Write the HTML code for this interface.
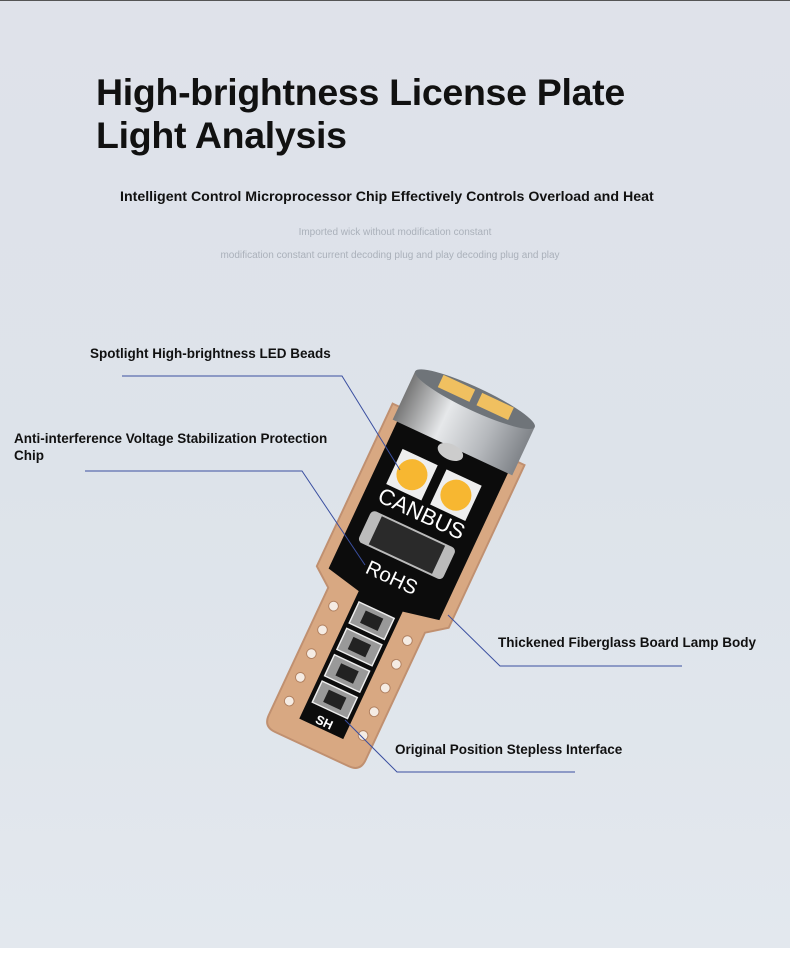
<!DOCTYPE html>
<html><head><meta charset="utf-8"><style>
body{margin:0;width:790px;height:953px;overflow:hidden;background:linear-gradient(180deg,#dfe2ea 0%,#dde3ea 50%,#e3e8ee 100%);font-family:"Liberation Sans",sans-serif;position:relative}
.t{position:absolute;color:#111;font-weight:bold}
</style></head><body>
<div style="position:absolute;left:0;top:0;width:790px;height:1px;background:#555"></div>
<div style="position:absolute;left:0;top:948px;width:790px;height:5px;background:#fff"></div>
<div class="t" style="left:96px;top:71px;font-size:37.5px;line-height:43px;letter-spacing:-0.3px">High-brightness License Plate<br>Light Analysis</div>
<div class="t" style="left:120px;top:189px;font-size:14.2px">Intelligent Control Microprocessor Chip Effectively Controls Overload and Heat</div>
<div style="position:absolute;left:0;width:790px;top:227px;text-align:center;font-size:10px;color:#aab0ba">Imported wick without modification constant</div>
<div style="position:absolute;left:0;width:780px;top:250px;text-align:center;font-size:10px;color:#aab0ba">modification constant current decoding plug and play decoding plug and play</div>
<div class="t" style="left:90px;top:346px;font-size:13.5px">Spotlight High-brightness LED Beads</div>
<div class="t" style="left:14px;top:430px;font-size:13.5px;line-height:17px">Anti-interference Voltage Stabilization Protection<br>Chip</div>
<div class="t" style="left:498px;top:635px;font-size:13.5px">Thickened Fiberglass Board Lamp Body</div>
<div class="t" style="left:395px;top:742px;font-size:13.5px">Original Position Stepless Interface</div>
<svg width="790" height="953" style="position:absolute;left:0;top:0">
<defs><linearGradient id="cg" x1="0" x2="1"><stop offset="0" stop-color="#777"/><stop offset=".35" stop-color="#e6e8ea"/><stop offset=".7" stop-color="#b5b8bc"/><stop offset="1" stop-color="#808489"/></linearGradient></defs>
<g transform="translate(393,575) rotate(25) scale(0.97)">
 <path d="M-75,-160 L75,-160 L75,25 L55,40 L55,185 Q55,198 42,198 L-42,198 Q-55,198 -55,185 L-55,40 L-75,25 Z" fill="#d8a882" stroke="#c09070" stroke-width="2"/>
 <path d="M-63,-150 L63,-150 L63,22 L25,30 L25,175 L-25,175 L-25,30 L-63,22 Z" fill="#0c0c0c"/>
 <g fill="#f5ece4" stroke="#b08060">
  <circle cx="-42" cy="55" r="5"/><circle cx="-42" cy="82" r="5"/><circle cx="-42" cy="109" r="5"/><circle cx="-42" cy="136" r="5"/><circle cx="-42" cy="163" r="5"/>
  <circle cx="42" cy="55" r="5"/><circle cx="42" cy="82" r="5"/><circle cx="42" cy="109" r="5"/><circle cx="42" cy="136" r="5"/><circle cx="42" cy="163" r="5"/>
 </g>
 <rect x="-46" y="-122" width="40" height="40" fill="#eee"/><circle cx="-26" cy="-102" r="16" fill="#f7b731"/>
 <rect x="4" y="-122" width="40" height="40" fill="#eee"/><circle cx="24" cy="-102" r="16" fill="#f7b731"/>
 <text x="0" y="-62" text-anchor="middle" fill="#fff" font-size="23" font-family="Liberation Sans">CANBUS</text>
 <rect x="-48" y="-52" width="96" height="36" rx="5" fill="#bbb"/><rect x="-36" y="-50" width="72" height="32" fill="#2a2a2a"/>
 <text x="0" y="10" text-anchor="middle" fill="#fff" font-size="21" font-family="Liberation Sans">RoHS</text>
 <g fill="#999" stroke="#eee" stroke-width="1.5">
  <rect x="-20" y="40" width="40" height="24"/><rect x="-20" y="70" width="40" height="24"/><rect x="-20" y="100" width="40" height="24"/><rect x="-20" y="130" width="40" height="24"/>
 </g>
 <g fill="#222"><rect x="-10" y="45" width="20" height="14"/><rect x="-10" y="75" width="20" height="14"/><rect x="-10" y="105" width="20" height="14"/><rect x="-10" y="135" width="20" height="14"/></g>
 <text x="0" y="172" text-anchor="middle" fill="#fff" font-size="13" font-weight="bold">SH</text>
 <rect x="-68" y="-200" width="136" height="55" fill="url(#cg)"/>
 <ellipse cx="0" cy="-200" rx="68" ry="12" fill="#6f7479"/>
 <rect x="-40" y="-209" width="36" height="14" fill="#f0c060"/><rect x="4" y="-209" width="36" height="14" fill="#f0c060"/>
 <ellipse cx="0" cy="-140" rx="14" ry="8" fill="#ccc"/>
</g>
<g stroke="#3a4fa0" stroke-width="1" fill="none">
 <polyline points="122,376 342,376 400,470"/>
 <polyline points="85,471 302,471 365,565"/>
 <polyline points="448,615 500,666 682,666"/>
 <polyline points="345,720 397,772 575,772"/>
</g>
</svg>
</body></html>
